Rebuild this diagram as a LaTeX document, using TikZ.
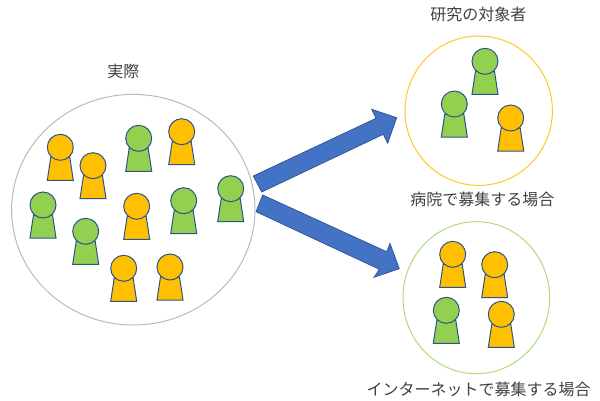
\documentclass[tikz,border=0pt]{standalone}
\usepackage{fontspec}
\usetikzlibrary{shapes.geometric}
\newfontfamily\jpfont{Noto Sans CJK JP}[Scale=1]
\definecolor{porange}{HTML}{FFC000}
\definecolor{pgreen}{HTML}{92D050}
\definecolor{pline}{HTML}{2F528F}
\definecolor{arrowfill}{HTML}{4472C4}
\definecolor{txt}{HTML}{404040}
\tikzset{
  x=1pt,y=-1pt,
  personpart/.style={draw=pline,line width=1pt,line join=miter},
  group/.style={ellipse,draw,fill=white,inner sep=0pt,line width=1pt},
  blockarrow/.style={draw=pline,fill=arrowfill,line width=0.7pt,line join=miter},
  lbl/.style={font=\jpfont\fontsize{16}{18}\selectfont,text=txt,inner sep=0pt}
}
\newcommand{\person}[3]{%
  \draw[personpart,fill=#3] (#1-9.5,#2+10) -- (#1+9.5,#2+10) -- (#1+13,#2+33) -- (#1-13,#2+33) -- cycle;
  \draw[personpart,fill=#3] (#1,#2) circle[radius=13];
}
\begin{document}
\begin{tikzpicture}
\useasboundingbox (0,0) rectangle (600,400);
\node[group,draw=black!27,minimum width=243.4,minimum height=230.6] (all) at (133.3,209.7) {};
\node[group,draw=porange!85,minimum width=147.4,minimum height=149.4] (hosp) at (478.7,110.7) {};
\node[group,draw=pgreen!75,minimum width=146.6,minimum height=152] (net) at (476.3,297.7) {};
\foreach \a/\b in {60.3/147.3,93/165.7,181.7/131.7,136.7/206.3,123.7/268.3,170/267,510.7/118,452.7/254.3,494.7/264.7,501.3/314.3}
  {\person{\a}{\b}{porange}}
\foreach \a/\b in {138.7/138.3,43/205,85.7/231.3,183.7/200.7,230.7/188.7,485/61.3,454.3/104,446.3/310.3}
  {\person{\a}{\b}{pgreen}}
\draw[blockarrow] (253.3,176) -- (376,118.3) -- (371.7,109.3) -- (396.7,117.7) -- (387.7,143.3) -- (383.3,134.3) -- (261.7,192) -- cycle;
\draw[blockarrow] (262.7,195) -- (386.7,251.7) -- (390,243.3) -- (399.3,268.7) -- (374,277.3) -- (379.3,269.3) -- (256,211.7) -- cycle;
\node[lbl] (t1) at (123.3,71.7) {実際};
\node[lbl] (t2) at (478.3,14) {研究の対象者};
\node[lbl] (t3) at (482.3,199) {病院で募集する場合};
\node[lbl] (t4) at (478.7,389) {インターネットで募集する場合};
\end{tikzpicture}
\end{document}
